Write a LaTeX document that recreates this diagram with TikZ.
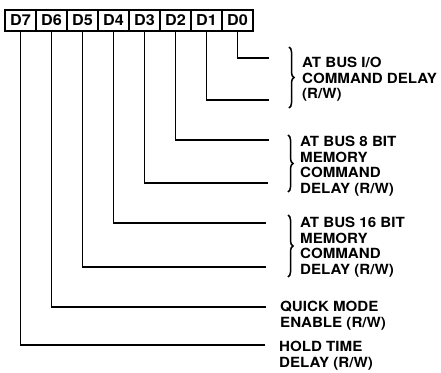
\documentclass[tikz,border=0pt]{standalone}
\usepackage{fontspec}
\newfontfamily\regfont[FakeStretch=1.08]{TeX Gyre Heros}
\usetikzlibrary{positioning,decorations.pathreplacing}

\begin{document}
\begin{tikzpicture}[
    x=1pt,y=-1pt,
    node distance=0pt,
    bitbox/.style={draw,line width=1.3pt,outer sep=0pt,inner sep=0pt,
                   minimum width=31pt,minimum height=21pt,
                   font=\regfont\bfseries\fontsize{15}{16}\selectfont},
    wire/.style={line width=1.6pt},
    curly/.style={decorate,decoration={brace,amplitude=5pt},line width=1.5pt},
    note/.style={anchor=north west,inner sep=0pt,align=left,
                 font=\regfont\bfseries\fontsize{14}{15.5}\selectfont}
  ]
    \useasboundingbox (0,0) rectangle (441,372);
    % register bits
    \node[bitbox] (d7) at (20.5,20.5) {D7};
    \node[bitbox,right=of d7] (d6) {D6};
    \node[bitbox,right=of d6] (d5) {D5};
    \node[bitbox,right=of d5] (d4) {D4};
    \node[bitbox,right=of d4] (d3) {D3};
    \node[bitbox,right=of d3] (d2) {D2};
    \node[bitbox,right=of d2] (d1) {D1};
    \node[bitbox,right=of d1] (d0) {D0};
    % line ends
    \coordinate (e0) at (269,58);
    \coordinate (e1) at (269,100);
    \coordinate (e2) at (269,140);
    \coordinate (e3) at (268,183);
    \coordinate (e4) at (266,223);
    \coordinate (e5) at (266,267);
    \coordinate (e6) at (266,307);
    \coordinate (e7) at (265,345);
    \draw[wire] (d0.south) |- (e0);
    \draw[wire] (d1.south) |- (e1);
    \draw[wire] (d2.south) |- (e2);
    \draw[wire] (d3.south) |- (e3);
    \draw[wire] (d4.south) |- (e4);
    \draw[wire] (d5.south) |- (e5);
    \draw[wire] (d6.south) |- (e6);
    \draw[wire] (d7.south) |- (e7);
    % braces
    \coordinate (b1top) at (289,47);
    \coordinate (b1bot) at (289,108);
    \coordinate (b2top) at (288,135);
    \coordinate (b2bot) at (288,192);
    \coordinate (b3top) at (288,215);
    \coordinate (b3bot) at (288,277);
    \draw[curly] (b1top) -- (b1bot);
    \draw[curly] (b2top) -- (b2bot);
    \draw[curly] (b3top) -- (b3bot);
    % labels
    \node[note] (io) at (302,57) {AT BUS I/O\\COMMAND DELAY\\(R/W)};
    \node[note] (mem8) at (300,136) {AT BUS 8 BIT\\MEMORY\\COMMAND\\DELAY (R/W)};
    \node[note] (mem16) at (300,217) {AT BUS 16 BIT\\MEMORY\\COMMAND\\DELAY (R/W)};
    \node[note] (quick) at (280,301) {QUICK MODE\\ENABLE (R/W)};
    \node[note] (hold) at (279,341) {HOLD TIME\\DELAY (R/W)};
  \end{tikzpicture}
\end{document}
